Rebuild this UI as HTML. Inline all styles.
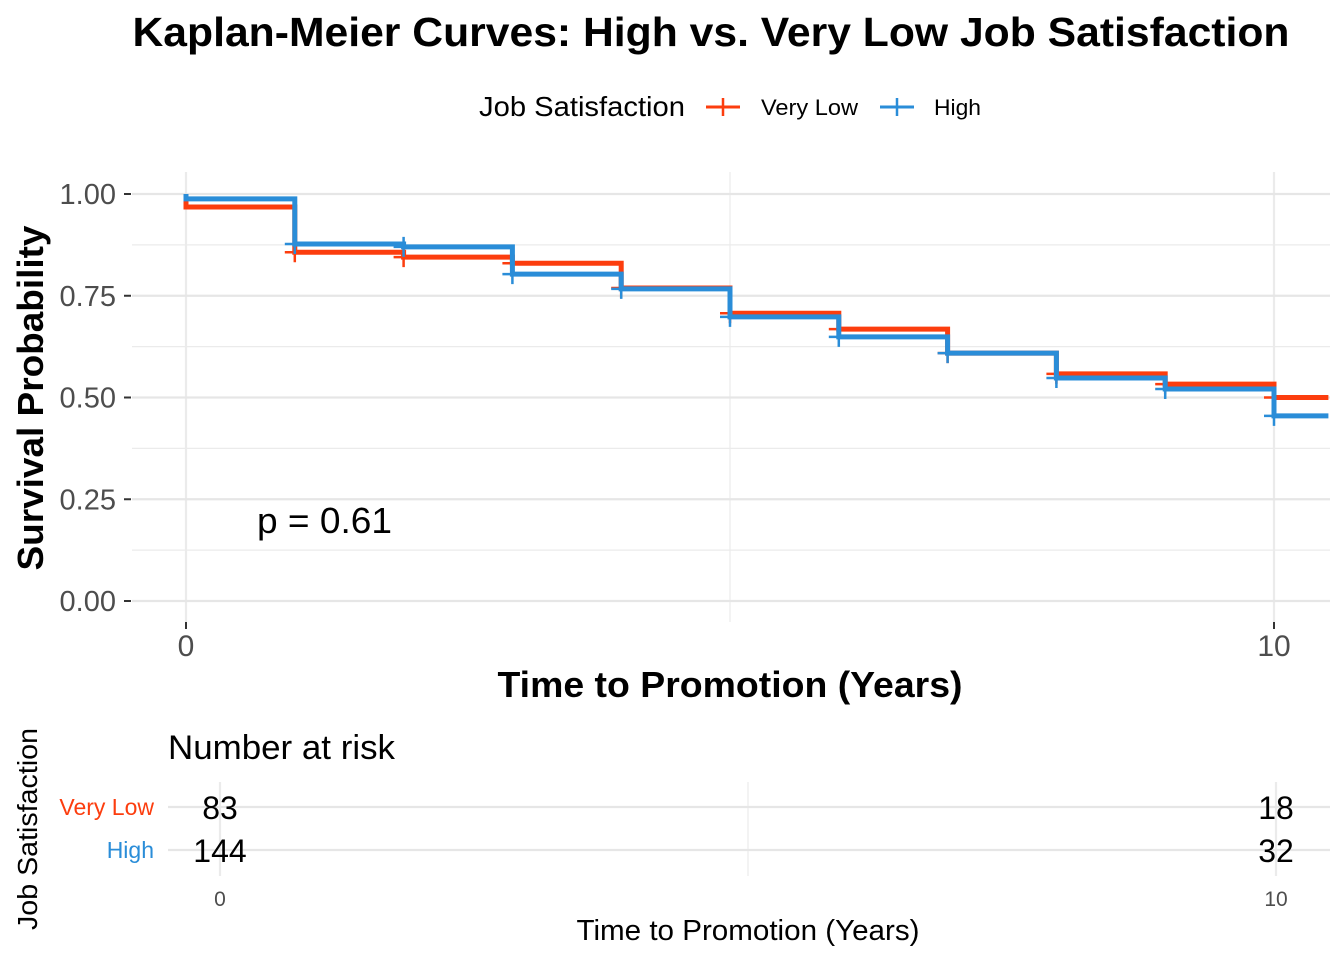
<!DOCTYPE html>
<html><head><meta charset="utf-8"><style>
body{margin:0;background:#fff}
svg{display:block;font-family:"Liberation Sans",Arial,sans-serif}
</style></head><body>
<svg id="c" width="1344" height="960">
<text x="711" y="46" text-anchor="middle" font-size="41" font-weight="bold" textLength="1157" lengthAdjust="spacingAndGlyphs">Kaplan-Meier Curves: High vs. Very Low Job Satisfaction</text>
<g>
<text x="479" y="116" font-size="28" textLength="206" lengthAdjust="spacingAndGlyphs">Job Satisfaction</text>
<g><line x1="706" x2="740" y1="107" y2="107" stroke="#FC3D0E" stroke-width="3"/><line x1="723" x2="723" y1="98" y2="116" stroke="#FC3D0E" stroke-width="2.5"/><text x="761" y="115" font-size="22" textLength="97" lengthAdjust="spacingAndGlyphs">Very Low</text></g>
<g><line x1="880" x2="914" y1="107" y2="107" stroke="#2A8DD8" stroke-width="3"/><line x1="897" x2="897" y1="98" y2="116" stroke="#2A8DD8" stroke-width="2.5"/><text x="934" y="115" font-size="22" textLength="47" lengthAdjust="spacingAndGlyphs">High</text></g>
</g>
<g id="grid"></g>
<g id="curves"></g>
<g id="axes"></g>
<text x="257" y="533" font-size="36" textLength="135" lengthAdjust="spacingAndGlyphs">p = 0.61</text>
<text transform="translate(43,398) rotate(-90)" text-anchor="middle" font-size="36" font-weight="bold" textLength="345" lengthAdjust="spacingAndGlyphs">Survival Probability</text>
<text x="730" y="697" text-anchor="middle" font-size="36" font-weight="bold" textLength="465" lengthAdjust="spacingAndGlyphs">Time to Promotion (Years)</text>
<text x="168" y="759" font-size="34" textLength="227" lengthAdjust="spacingAndGlyphs">Number at risk</text>
<g id="risk"></g>
<text transform="translate(37,829) rotate(-90)" text-anchor="middle" font-size="28" textLength="202" lengthAdjust="spacingAndGlyphs">Job Satisfaction</text>
<text x="748" y="940" text-anchor="middle" font-size="29" textLength="343" lengthAdjust="spacingAndGlyphs">Time to Promotion (Years)</text>
</svg>
<script>
const times=[0,1,2,3,4,5,6,7,8,9,10];
const veryLow=[0.968,0.857,0.845,0.830,0.769,0.707,0.668,0.609,0.558,0.533,0.50];
const high=[0.988,0.877,0.870,0.803,0.767,0.698,0.649,0.609,0.548,0.521,0.455];
const yTicks=[0,0.25,0.5,0.75,1];
const yTickLabels=["0.00","0.25","0.50","0.75","1.00"];
const xTicks=[0,10];
const riskTimes=[0,10];
const riskVeryLow=[83,18];
const riskHigh=[144,32];
const tMax=10.5;
const NS="http://www.w3.org/2000/svg";
const X=t=>186+t*108.8, Y=v=>601-v*407;
const RX=t=>220+t*105.6;
function mk(p,tag,a){const e=document.createElementNS(NS,tag);for(const k in a)e.setAttribute(k,a[k]);p.appendChild(e);return e;}
const grid=document.getElementById('grid'),axes=document.getElementById('axes'),cur=document.getElementById('curves'),risk=document.getElementById('risk');
for(let i=0;i<yTicks.length-1;i++){const v=(yTicks[i]+yTicks[i+1])/2;const l=mk(grid,'line',{x1:132,x2:1330,y1:Y(v),y2:Y(v),stroke:'#ebebeb','stroke-width':1.2});
}
[0,5,10].forEach(t=>{const l=mk(grid,'line',{x1:X(t),x2:X(t),y1:172,y2:622,stroke:'#ebebeb','stroke-width':t==5?1.2:2.2});
});
yTicks.forEach((v,i)=>{const l=mk(grid,'line',{x1:132,x2:1330,y1:Y(v),y2:Y(v),stroke:'#e6e6e6','stroke-width':2.2});

const tk=mk(axes,'line',{x1:124,x2:131,y1:Y(v),y2:Y(v),stroke:'#333','stroke-width':2});

const t=mk(axes,'text',{x:116,y:Y(v)+10,'text-anchor':'end','font-size':29,fill:'#4d4d4d'});t.textContent=yTickLabels[i];
});
xTicks.forEach(v=>{const tk=mk(axes,'line',{x1:X(v),x2:X(v),y1:622,y2:629,stroke:'#333','stroke-width':2});

const t=mk(axes,'text',{x:X(v),y:656,'text-anchor':'middle','font-size':30,fill:'#4d4d4d'});t.textContent=v;
});
function curve(vals,color,name){let d=`M${X(0)},${Y(1)}`;
for(let i=0;i<times.length;i++){const x=X(times[i]);d+=` L${x},${Y(vals[i])}`;const nx=i<times.length-1?X(times[i+1]):X(tMax);d+=` L${nx},${Y(vals[i])}`;}
const p=mk(cur,'path',{d:d,fill:'none',stroke:color,'stroke-width':5});

for(let i=1;i<times.length;i++){const x=X(times[i]),y=Y(vals[i]);
const c=mk(cur,'path',{d:`M${x-10},${y} H${x+10} M${x},${y-10} V${y+10}`,stroke:color,'stroke-width':2.5});
}}
curve(veryLow,'#FC3D0E','very-low');
curve(high,'#2A8DD8','high');
[0,5,10].forEach(t=>{const l=mk(risk,'line',{x1:RX(t),x2:RX(t),y1:782,y2:876,stroke:'#ebebeb','stroke-width':t==5?1.2:2.2});
});
[[807,riskVeryLow,'Very Low','#FC3D0E','very-low'],[850,riskHigh,'High','#2A8DD8','high']].forEach(r=>{
const l=mk(risk,'line',{x1:168,x2:1330,y1:r[0],y2:r[0],stroke:'#e6e6e6','stroke-width':2.2});

const lb=mk(risk,'text',{x:154,y:r[0]+8,'text-anchor':'end','font-size':23,fill:r[3]});lb.textContent=r[2];

riskTimes.forEach((t,i)=>{const tx=mk(risk,'text',{x:RX(t),y:r[0]+12,'text-anchor':'middle','font-size':32});tx.textContent=r[1][i];
});});
riskTimes.forEach(t=>{const tx=mk(risk,'text',{x:RX(t),y:906,'text-anchor':'middle','font-size':21,fill:'#4d4d4d'});tx.textContent=t;
});
</script>
</body></html>
